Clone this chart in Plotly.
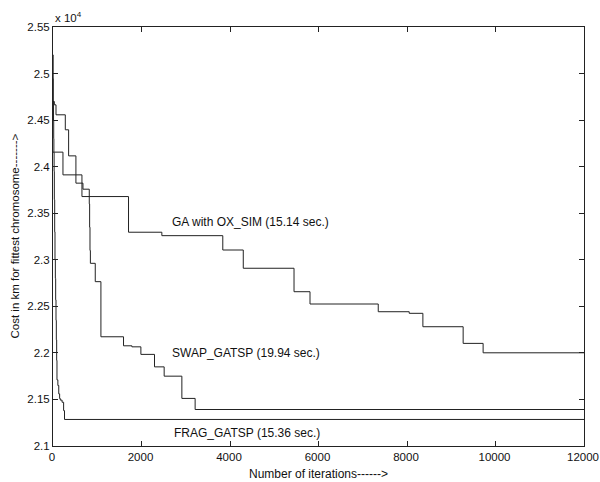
import plotly.graph_objects as go

# ---- data (iterations, cost in km) ----
iter_ga = [0, 225, 654, 1707, 2460, 3837, 4300, 5447, 5808, 7350, 8050, 8359, 9269, 9720, 12000]
cost_ga = [24156, 23912, 23679, 23296, 23259, 23105, 22909, 22657, 22525, 22442, 22425, 22281, 22102, 22001, 22001]

iter_swap = [0, 30, 68, 278, 353, 518, 677, 820, 828, 836, 845, 955, 1083, 1594, 1783, 1986, 2294, 2512, 2912, 3212, 12000]
cost_swap = [24700, 24664, 24557, 24396, 24116, 23823, 23758, 23600, 23350, 23100, 22962, 22765, 22173, 22076, 22065, 21984, 21850, 21750, 21511, 21392, 21392]

iter_frag = [0, 4, 8, 12, 16, 20, 25, 30, 38, 45, 53, 60, 68, 75, 83, 90, 110, 130, 150, 165, 205, 240, 260, 12000]
cost_frag = [25200, 24950, 24700, 24500, 24300, 24150, 23950, 23646, 23300, 23000, 22800, 22570, 22350, 22140, 21920, 21710, 21650, 21560, 21510, 21493, 21470, 21380, 21285, 21285]

label_text = ["GA with OX_SIM (15.14 sec.)", "SWAP_GATSP (19.94 sec.)", "FRAG_GATSP (15.36 sec.)"]
label_x = [2640, 2640, 2700]
label_y = [23406, 21999, 21138]

x_ticks = [0, 2000, 4000, 6000, 8000, 10000, 12000]
x_ticktext = ["0", "2000", "4000", "6000", "8000", "10000", "12000"]
y_ticks = [21000, 21500, 22000, 22500, 23000, 23500, 24000, 24500, 25000, 25500]
y_ticktext = ["2.1", "2.15", "2.2", "2.25", "2.3", "2.35", "2.4", "2.45", "2.5", "2.55"]

x_title = "Number of iterations------>"
y_title = "Cost in km for fittest chromosome------->"

FONT = "Liberation Sans, Arial, Helvetica, sans-serif"
LINE = "#222222"

fig = go.Figure()
for xs, ys in [(iter_ga, cost_ga), (iter_swap, cost_swap), (iter_frag, cost_frag)]:
    fig.add_trace(go.Scatter(x=xs, y=ys, mode="lines", line=dict(color=LINE, width=1, shape="hv"),
                             showlegend=False, hoverinfo="skip"))

for t, x, y in zip(label_text, label_x, label_y):
    fig.add_annotation(x=x, y=y, xref="x", yref="y", text=t, showarrow=False,
                       xanchor="left", yanchor="middle", font=dict(size=12, color="#111", family=FONT))

fig.add_annotation(x=0, y=1, xref="paper", yref="paper", text="x 10<sup>4</sup>", showarrow=False,
                   xanchor="left", yanchor="bottom", yshift=1, font=dict(size=11.5, color="#111", family=FONT))

# axis titles
fig.add_annotation(x=0.5, y=0, xref="paper", yref="paper", text=x_title, showarrow=False,
                   xanchor="center", yanchor="middle", yshift=-28, font=dict(size=12, color="#111", family=FONT))
fig.add_annotation(x=0, y=0.5, xref="paper", yref="paper", text=y_title, showarrow=False, textangle=-90,
                   xanchor="center", yanchor="middle", xshift=-39, font=dict(size=11.5, color="#111", family=FONT))

fig.update_layout(
    width=600, height=482,
    margin=dict(l=53, r=16, t=27, b=36, autoexpand=False),
    plot_bgcolor="white", paper_bgcolor="white",
    font=dict(family=FONT, size=11.5, color="#111"),
)
fig.update_xaxes(range=[0, 12000], tickvals=x_ticks, ticktext=x_ticktext, ticks="inside", ticklen=5, tickwidth=1,
                 tickcolor="#222", automargin=False, ticklabelshift=-1,
                 showline=True, linecolor="#222", linewidth=1, mirror="ticks", showgrid=False, zeroline=False)
fig.update_yaxes(range=[21000, 25500], tickvals=y_ticks, ticktext=y_ticktext, ticks="inside", ticklen=5,
                 tickwidth=1, tickcolor="#222", automargin=False,
                 showline=True, linecolor="#222", linewidth=1, mirror="ticks", showgrid=False, zeroline=False)

# remove the default page margin so the 600x482 figure fills the window exactly
fig.write_html("out.html", config={"displayModeBar": False}, post_script=(
    "document.documentElement.style.margin='0';document.documentElement.style.overflow='hidden';"
    "document.body.style.margin='0';document.body.style.overflow='hidden';"))
